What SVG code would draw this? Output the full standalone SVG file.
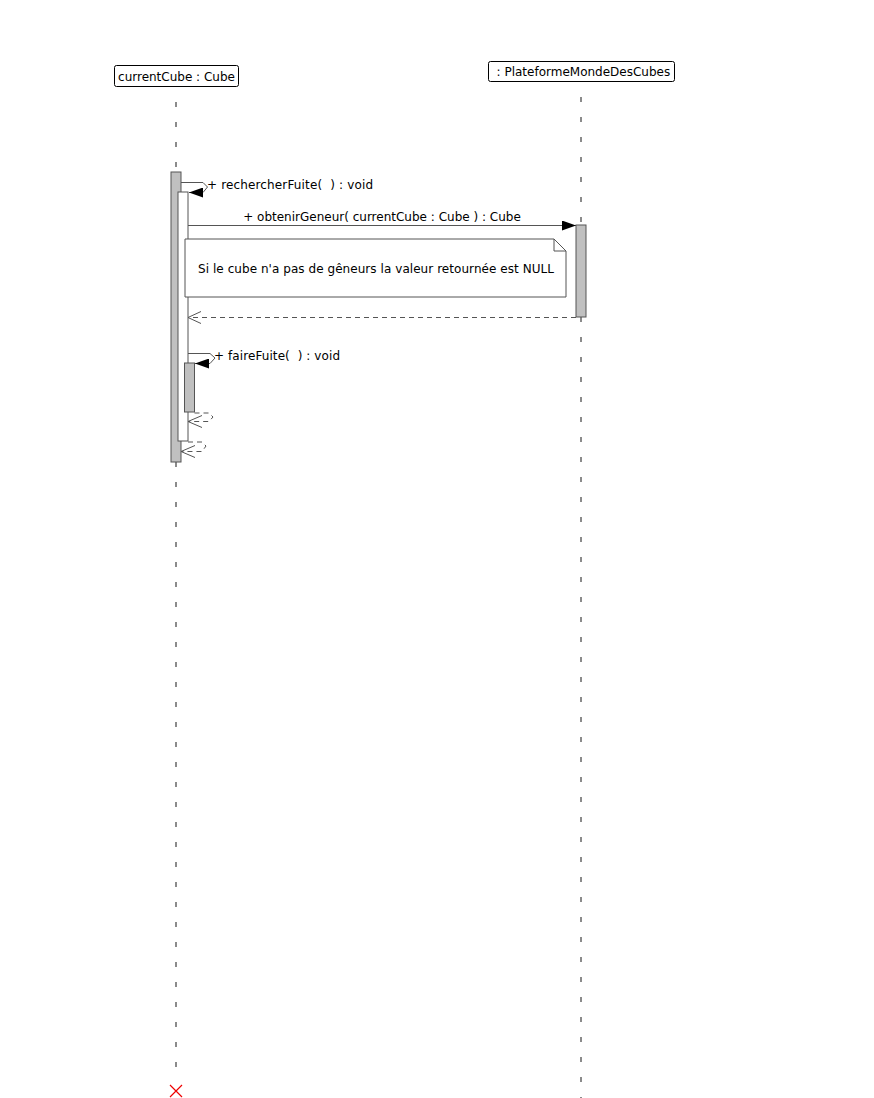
<svg xmlns="http://www.w3.org/2000/svg" width="874" height="1098" viewBox="0 0 874 1098">
<style>
text{font-family:"DejaVu Sans",sans-serif;font-size:12px;fill:#000;white-space:pre}
.hdr{fill:#fff;stroke:#000;stroke-width:1}
.life{stroke:#666;stroke-width:1.5;stroke-dasharray:5 15;fill:none}
.act{fill:#c0c0c0;stroke:#555;stroke-width:1}
.act2{fill:#fff;stroke:#555;stroke-width:1}
.msg{stroke:#555;stroke-width:1;fill:none}
.ret{stroke:#555;stroke-width:1;fill:none;stroke-dasharray:5 4}
.head{stroke:#555;stroke-width:1;fill:none}
.note{fill:#fff;stroke:#555;stroke-width:1}
</style>
<defs>
<marker id="fill" viewBox="0 0 14 10" refX="14" refY="5" markerWidth="14" markerHeight="10" markerUnits="userSpaceOnUse" orient="auto">
<path d="M0,0 L14,5 L0,10 Z" fill="#000"/>
</marker>
</defs>
<g id="lifeline-currentCube">
<line class="life" x1="176" y1="102" x2="176" y2="1082"/>
<rect class="hdr" x="114.5" y="65.5" width="124" height="21" rx="2"/>
<text x="176.5" y="80.5" text-anchor="middle">currentCube : Cube</text>
<path d="M170,1085 L182,1097 M182,1085 L170,1097" stroke="#e00" stroke-width="1.2"/>
</g>
<g id="lifeline-plateforme">
<line class="life" x1="581" y1="97" x2="581" y2="1098"/>
<rect class="hdr" x="488.5" y="61.5" width="186" height="20" rx="2"/>
<text x="581.5" y="76" text-anchor="middle"> : PlateformeMondeDesCubes</text>
</g>
<g id="activations">
<rect class="act" x="171" y="172" width="10" height="290"/>
<rect class="act2" x="178" y="192" width="10" height="249"/>
<rect class="act" x="184.5" y="363" width="10" height="49"/>
<rect class="act" x="576" y="225" width="10" height="92"/>
</g>
<g id="note">
<path class="note" d="M185,239 L554,239 L566,251 L566,297 L185,297 Z"/>
<path d="M554,239 L554,251 L566,251" fill="none" stroke="#555" stroke-width="1"/>
<text x="198" y="273" textLength="356">Si le cube n'a pas de gêneurs la valeur retournée est NULL</text>
</g>
<g id="connectors">
<path class="msg" d="M181,182.5 L203,182.5 L207.5,187 L203,192.5 L189,192.5" marker-end="url(#fill)"/>
<text x="207" y="189" textLength="166">+ rechercherFuite(  ) : void</text>
<line class="msg" x1="188" y1="225.5" x2="576" y2="225.5" marker-end="url(#fill)"/>
<text x="382" y="221" text-anchor="middle">+ obtenirGeneur( currentCube : Cube ) : Cube</text>
<line class="ret" x1="576" y1="317.5" x2="188" y2="317.5"/>
<path class="head" d="M201,311.5 L188,317.5 L201,323.5"/>
<path class="msg" d="M188,353.5 L210,353.5 L215,358 L210,363.5 L195,363.5" marker-end="url(#fill)"/>
<text x="214" y="360" textLength="126">+ faireFuite(  ) : void</text>
<path class="ret" d="M194.5,413 L209,413 L213,417 L209,421.5 L188,421.5"/>
<path class="head" d="M202,415.5 L188,421.5 L202,427.5"/>
<path class="ret" d="M188,442 L202,442 L206,446 L202,451.5 L181,451.5"/>
<path class="head" d="M195,445.5 L181,451.5 L195,457.5"/>
</g>
</svg>
